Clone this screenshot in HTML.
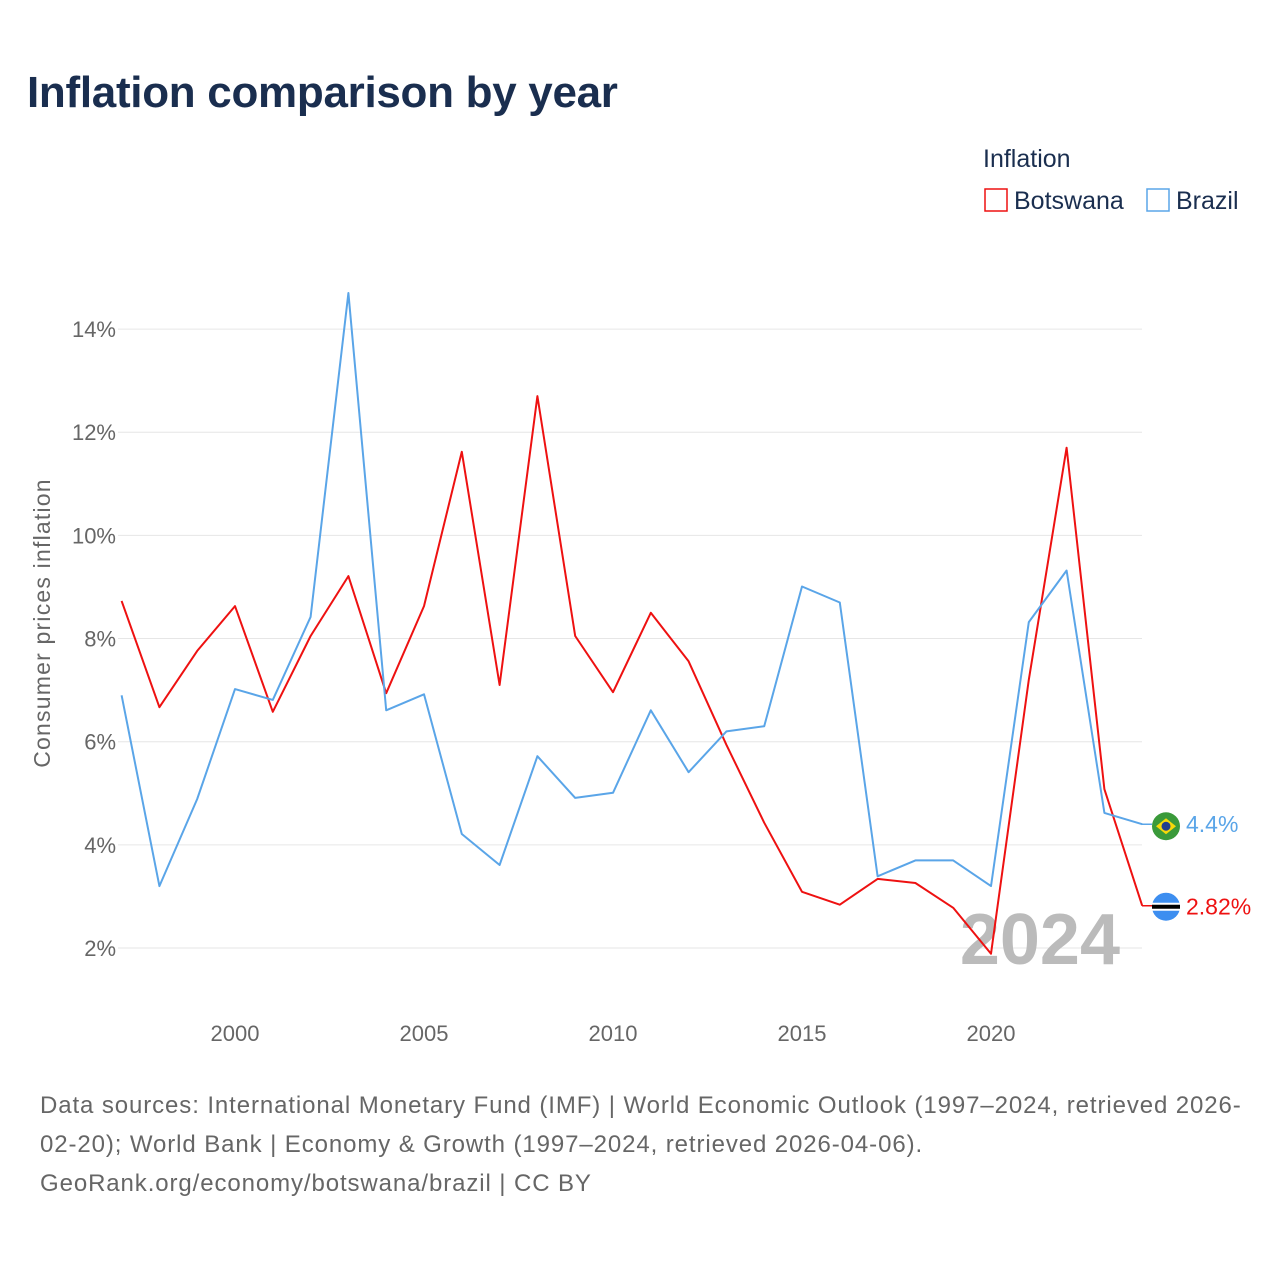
<!DOCTYPE html>
<html><head><meta charset="utf-8">
<style>
body{margin:0;background:#fff;font-family:"Liberation Sans",sans-serif;}
#wrap{position:relative;width:1280px;height:1280px;overflow:hidden;}
h1{position:absolute;left:27px;top:68px;margin:0;font-size:44px;font-weight:bold;color:#1a2e4f;letter-spacing:-0.3px;}
.src{position:absolute;left:40px;top:1086px;width:1240px;font-size:24px;line-height:39px;color:#666;letter-spacing:0.9px;white-space:nowrap;}
</style></head><body>
<div id="wrap">
<h1>Inflation comparison by year</h1>
<svg id="chart" width="1280" height="1280" style="position:absolute;left:0;top:0"></svg>
<div class="src">Data sources: International Monetary Fund (IMF) | World Economic Outlook (1997–2024, retrieved 2026-<br>02-20); World Bank | Economy &amp; Growth (1997–2024, retrieved 2026-04-06).<br>GeoRank.org/economy/botswana/brazil | CC BY</div>
</div>
<script>
const years=[1997,1998,1999,2000,2001,2002,2003,2004,2005,2006,2007,2008,2009,2010,2011,2012,2013,2014,2015,2016,2017,2018,2019,2020,2021,2022,2023,2024];
const botswana=[8.73,6.67,7.76,8.63,6.58,8.05,9.21,6.94,8.63,11.62,7.10,12.70,8.05,6.96,8.50,7.56,5.94,4.43,3.09,2.84,3.34,3.26,2.78,1.89,7.20,11.70,5.08,2.82];
const brazil=[6.90,3.20,4.89,7.02,6.81,8.42,14.70,6.61,6.92,4.21,3.61,5.72,4.91,5.01,6.61,5.41,6.20,6.30,9.01,8.70,3.39,3.70,3.70,3.20,8.32,9.32,4.62,4.4];
const yTicks=[2,4,6,8,10,12,14];
const xTicks=[2000,2005,2010,2015,2020];
const NS="http://www.w3.org/2000/svg";
const svg=document.getElementById('chart');
function X(y){return 235+(y-2000)*37.8;}
function Y(v){return 1051.2-v*51.58;}
function el(t,a,txt){const e=document.createElementNS(NS,t);for(const k in a)e.setAttribute(k,a[k]);if(txt!=null)e.textContent=txt;svg.appendChild(e);return e;}
yTicks.forEach(v=>{
 const g=el('line',{x1:118,x2:1142,y1:Y(v),y2:Y(v),stroke:'#e6e6e6','stroke-width':1});
 
 
 const t=el('text',{x:116,y:Y(v)+8,'text-anchor':'end','font-size':22,fill:'#666','font-family':'Liberation Sans'},v+'%');
 
 
});
xTicks.forEach(v=>{
 const t=el('text',{x:X(v),y:1041,'text-anchor':'middle','font-size':22,fill:'#666','font-family':'Liberation Sans'},String(v));
 
 
});
const yt=el('text',{x:0,y:0,transform:'translate(50,623) rotate(-90)','text-anchor':'middle','font-size':23,'letter-spacing':'1.2',fill:'#666','font-family':'Liberation Sans'},'Consumer prices inflation');


const yr=el('text',{x:1120,y:964,'text-anchor':'end','font-size':72,'font-weight':'bold',fill:'#bbb','font-family':'Liberation Sans'},'2024');


function line(data,color,name){
 const d=data.map((v,i)=>(i?'L':'M')+X(years[i]).toFixed(1)+','+Y(v).toFixed(1)).join(' ');
 const p=el('path',{d:d,fill:'none',stroke:color,'stroke-width':2,'stroke-linejoin':'round'});
 
 
 const last=data[data.length-1];
 el('line',{x1:1142,x2:1152,y1:Y(last),y2:Y(last),stroke:color,'stroke-width':1.5});
}
line(botswana,'#ee1111','botswana');
line(brazil,'#5aa5e8','brazil');
const bzY=Y(brazil[brazil.length-1]), bwY=Y(botswana[botswana.length-1]);
const c1=el('circle',{cx:1166,cy:bzY+2,r:14,fill:'#3a9a3a'});


el('polygon',{points:`1156,${bzY+2} 1166,${bzY-6} 1176,${bzY+2} 1166,${bzY+10}`,fill:'#f5d90a'});
el('circle',{cx:1166,cy:bzY+2,r:4.5,fill:'#1f3f8f'});
const c2=el('circle',{cx:1166,cy:bwY+1,r:14,fill:'#3d8ef0'});


el('rect',{x:1152,y:bwY-3,width:28,height:8,fill:'#fff'});
el('rect',{x:1152,y:bwY-1,width:28,height:4,fill:'#000'});
const l1=el('text',{x:1186,y:bzY+8,'font-size':23,fill:'#5aa5e8','font-family':'Liberation Sans'},'4.4%');


const l2=el('text',{x:1186,y:bwY+9,'font-size':23,fill:'#ee1111','font-family':'Liberation Sans'},'2.82%');


const lt=el('text',{x:983,y:167,'font-size':25,fill:'#1a2e4f','font-family':'Liberation Sans'},'Inflation');


const r1=el('rect',{x:985,y:189,width:22,height:22,fill:'none',stroke:'#ee1111','stroke-width':1.5});


const t1=el('text',{x:1014,y:209,'font-size':25,fill:'#1a2e4f','font-family':'Liberation Sans'},'Botswana');


const r2=el('rect',{x:1147,y:189,width:22,height:22,fill:'none',stroke:'#5aa5e8','stroke-width':1.5});


const t2=el('text',{x:1176,y:209,'font-size':25,fill:'#1a2e4f','font-family':'Liberation Sans'},'Brazil');


</script>
</body></html>
